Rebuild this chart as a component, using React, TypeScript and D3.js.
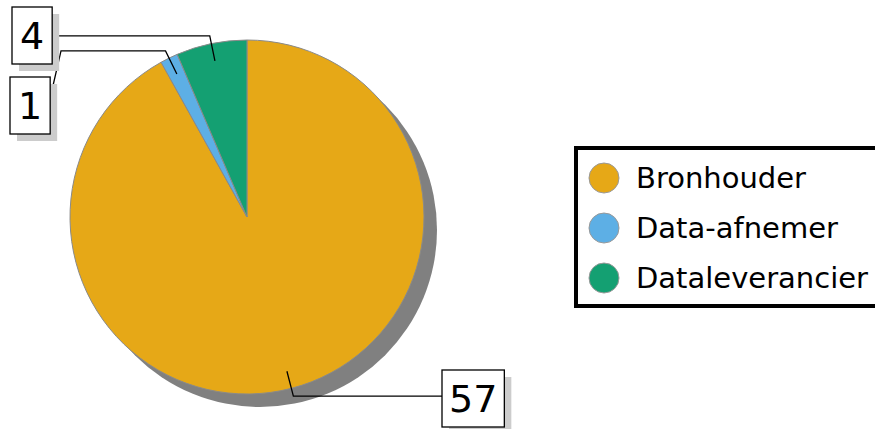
import React from "react";
import * as d3 from "d3";

const categories = ["Bronhouder", "Data-afnemer", "Dataleverancier"];
const values = [57, 1, 4];
const colors = ["#E6A817", "#5DAFE5", "#14A072"];

const W = 875;
const H = 429;
const cx = 247;
const cy = 217;
const R = 177;
const shadowOff = 13;

// label box positions (top-left) for each slice
const labelBoxes = [
  { x: 442, y: 370 },
  { x: 10, y: 77 },
  { x: 12, y: 7 },
];

export default function App() {
  const pie = d3
    .pie<number>()
    .sort(null)
    .value((d) => d);
  const arcs = pie(values);
  const arc = d3.arc<d3.PieArcDatum<number>>().innerRadius(0).outerRadius(R);
  const innerArc = d3
    .arc<d3.PieArcDatum<number>>()
    .innerRadius(R * 0.9)
    .outerRadius(R * 0.9);
  const outerArc = d3
    .arc<d3.PieArcDatum<number>>()
    .innerRadius(R + 8)
    .outerRadius(R + 8);

  const fs = 38;
  const digitW = fs * 0.636;
  const pad = 8;
  const boxH = 57;

  return (
    <svg
      width={W}
      height={H}
      style={{ position: "absolute", left: 0, top: 0 }}
      fontFamily="DejaVu Sans, sans-serif"
    >
      <rect width={W} height={H} fill="#fff" />
      <circle cx={cx + shadowOff} cy={cy + shadowOff} r={R} fill="#808080" />
      <g transform={`translate(${cx},${cy})`}>
        {arcs.map((a, i) => (
          <path
            key={i}
            d={arc(a) || ""}
            fill={colors[i]}
            stroke="#8a8a8a"
            strokeWidth={1}
          />
        ))}
      </g>
      {arcs.map((a, i) => {
        const txt = String(values[i]);
        const bw = txt.length * digitW + pad * 2 + (txt.length > 1 ? -2 : 0);
        const b = labelBoxes[i];
        const [ix, iy] = innerArc.centroid(a);
        const [ox, oy] = outerArc.centroid(a);
        const p1 = [cx + ix, cy + iy];
        const p2 = [cx + ox, cy + oy];
        let pts: number[][];
        if (i === 0) {
          pts = [p1, p2, [b.x, p2[1]]];
        } else if (i === 2) {
          pts = [p1, p2, [b.x + bw, p2[1]]];
        } else {
          pts = [p1, p2, [61, p2[1]], [b.x + bw, b.y + 21]];
        }
        return (
          <g key={"l" + i}>
            <polyline
              points={pts.map((p) => p.join(",")).join(" ")}
              fill="none"
              stroke="#000"
              strokeWidth={1.3}
            />
            <rect
              x={b.x + 7}
              y={b.y + 7}
              width={bw}
              height={boxH}
              fill="#cccccc"
            />
            <rect
              x={b.x}
              y={b.y}
              width={bw}
              height={boxH}
              fill="#fff"
              stroke="#000"
              strokeWidth={1.3}
            />
            <text
              x={b.x + bw / 2}
              y={b.y + boxH / 2 + fs * 0.36}
              textAnchor="middle"
              fontSize={fs}
              fill="#000"
            >
              {txt}
            </text>
          </g>
        );
      })}
      <rect
        x={576}
        y={148}
        width={320}
        height={158}
        fill="#fff"
        stroke="#000"
        strokeWidth={4}
      />
      {categories.map((c, i) => (
        <g key={c} transform={`translate(604,${178 + i * 50})`}>
          <circle r={15} fill={colors[i]} stroke="#999" strokeWidth={1} />
          <text
            x={32}
            y={0}
            dy="0.36em"
            fontSize={29}
            fill="#000"
          >
            {c}
          </text>
        </g>
      ))}
    </svg>
  );
}
